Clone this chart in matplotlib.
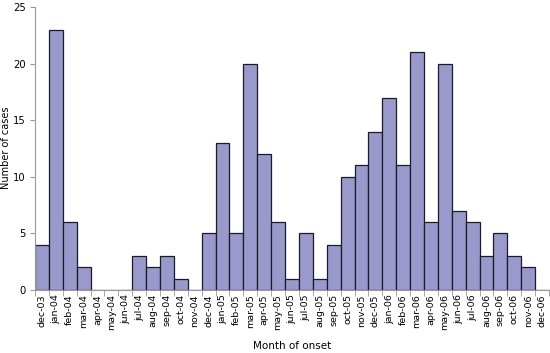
import matplotlib
matplotlib.use("Agg")
import matplotlib.pyplot as plt
import numpy as np

months = ["dec-03", "jan-04", "feb-04", "mar-04", "apr-04", "may-04", "jun-04", "jul-04",
          "aug-04", "sep-04", "oct-04", "nov-04", "dec-04", "jan-05", "feb-05", "mar-05",
          "apr-05", "may-05", "jun-05", "jul-05", "aug-05", "sep-05", "oct-05", "nov-05",
          "dec-05", "jan-06", "feb-06", "mar-06", "apr-06", "may-06", "jun-06", "jul-06",
          "aug-06", "sep-06", "oct-06", "nov-06", "dec-06"]
cases = [4, 23, 6, 2, 0, 0, 0, 3, 2, 3, 1, 0, 5, 13, 5, 20, 12, 6, 1, 5, 1, 4, 10, 11,
         14, 17, 11, 21, 6, 20, 7, 6, 3, 5, 3, 2, 0]
yticks = [0, 5, 10, 15, 20, 25]

fig = plt.figure(figsize=(5.5, 3.53), dpi=100)
ax = fig.add_axes([35/550, 1-290/353, 514/550, 283/353])
x = np.arange(len(months))
ax.bar(x, cases, width=1.0, color="#9999cc", edgecolor="#1a1a2a", linewidth=0.9)
ax.set_xlim(-0.5, len(months) - 0.5)
ax.set_ylim(0, 25)
ax.set_yticks(yticks)
ax.set_xticks(x)
ax.set_xticklabels(months, rotation=90, fontsize=6.8)
ax.tick_params(axis="x", which="major", length=0, pad=3)
ax.set_xticks(np.arange(-0.5, len(months), 1.0), minor=True)
ax.tick_params(axis="x", which="minor", length=4, color="#999999")
ax.tick_params(axis="y", labelsize=7.2, length=3.5, color="#999999", pad=3)
for s in ["top", "right"]:
    ax.spines[s].set_visible(False)
for s in ["left", "bottom"]:
    ax.spines[s].set_color("#999999")
fig.text(6/550, 1-148/353, "Number of cases", rotation=90, ha="center", va="center", fontsize=7)
ax.set_xlabel("Month of onset", fontsize=7.5, labelpad=8)
fig.savefig("out.png", dpi=100)
